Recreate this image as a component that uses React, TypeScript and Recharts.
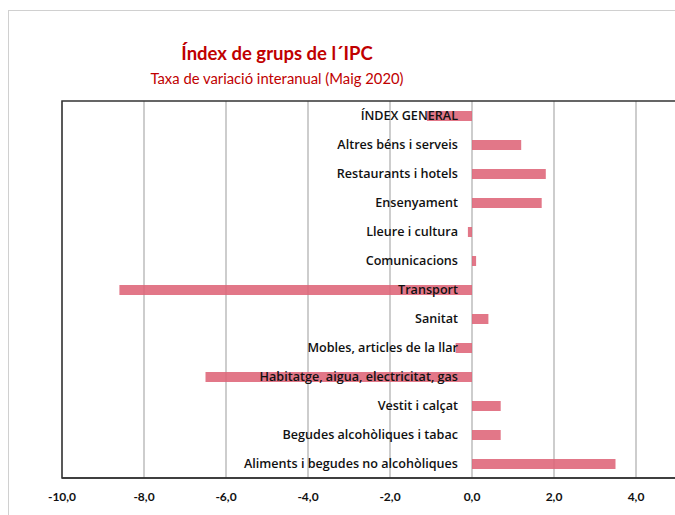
import { BarChart, Bar, XAxis, YAxis, CartesianGrid, LabelList, ReferenceArea } from "recharts";

const categories = [
  "ÍNDEX GENERAL",
  "Altres béns i serveis",
  "Restaurants i hotels",
  "Ensenyament",
  "Lleure i cultura",
  "Comunicacions",
  "Transport",
  "Sanitat",
  "Mobles, articles de la llar",
  "Habitatge, aigua, electricitat, gas",
  "Vestit i calçat",
  "Begudes alcohòliques i tabac",
  "Aliments i begudes no alcohòliques",
];
const rates = [-1.1, 1.2, 1.8, 1.7, -0.1, 0.1, -8.6, 0.4, -0.4, -6.5, 0.7, 0.7, 3.5];
const xTicks = [-10, -8, -6, -4, -2, 0, 2, 4];

const data = categories.map((name, i) => ({ name, value: rates[i] }));

const FONT = "Lato, 'Open Sans', sans-serif";
const LABEL_FONT = "'Open Sans', Lato, sans-serif";
const fmt = (v: number) => v.toFixed(1).replace(".", ",");

// category name written just left of the zero line, like Excel's "next to axis"
// @ts-ignore
const renderName = (props) => {
  const vb = props.viewBox ?? props;
  const { x, y, width, height } = vb;
  const zero = props.value >= 0 ? x : width < 0 ? x : x + width;
  return (
    <text
      x={zero - 14}
      y={y + height / 2}
      dy="0.35em"
      textAnchor="end"
      fontFamily={LABEL_FONT}
      fontSize={12.6}
      fontWeight={600}
      fill="#111"
    >
      {categories[props.index]}
    </text>
  );
};

const App = () => {
  return (
    <div style={{ position: "absolute", left: 0, top: 0, width: 675, height: 515, overflow: "hidden", background: "#fff" }}>
      <div
        style={{
          position: "absolute",
          left: 8,
          top: 10,
          width: 720,
          height: 560,
          border: "1px solid #d0d0d0",
          boxSizing: "border-box",
        }}
      />
      <div
        style={{
          position: "absolute",
          left: 0,
          width: 554,
          top: 41,
          textAlign: "center",
          fontFamily: FONT,
          fontSize: 18.5,
          fontWeight: 700,
          color: "#C00000",
          lineHeight: "24px",
        }}
      >
        Índex de grups de l´IPC
      </div>
      <div
        style={{
          position: "absolute",
          left: 0,
          width: 554,
          top: 67,
          textAlign: "center",
          fontFamily: FONT,
          fontSize: 14.8,
          color: "#C00000",
          lineHeight: "22px",
        }}
      >
        Taxa de variació interanual (Maig 2020)
      </div>
      <div style={{ position: "absolute", left: 0, top: 0 }}>
        <BarChart
          width={700}
          height={515}
          data={data}
          layout="vertical"
          barSize={10}
          margin={{ top: 101, right: 23, bottom: 7, left: 62 }}
        >
          <CartesianGrid horizontal={false} vertical stroke="#bdbdbd" strokeWidth={1.5} />
          <XAxis
            type="number"
            domain={[-10, 5]}
            ticks={xTicks}
            allowDataOverflow
            height={30}
            axisLine={{ stroke: "#333", strokeWidth: 1.5 }}
            tickLine={false}
            tickFormatter={fmt}
            tick={{ fontFamily: FONT, fontSize: 12, fontWeight: 700, fill: "#111" }}
            tickMargin={8}
          />
          <YAxis type="category" dataKey="name" width={0} hide />
          <ReferenceArea x1={-10} x2={5} fill="none" stroke="#333" strokeWidth={1.5} />
          <Bar dataKey="value" fill="#DE6478" fillOpacity={0.88} isAnimationActive={false}>
            <LabelList dataKey="value" content={renderName} />
          </Bar>
        </BarChart>
      </div>
    </div>
  );
};

export default App;
